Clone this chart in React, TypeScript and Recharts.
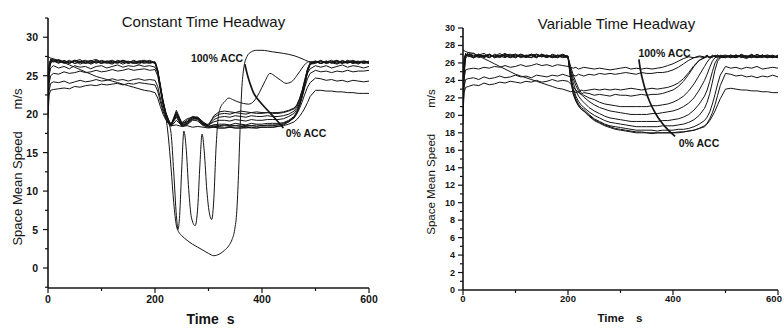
import { LineChart, Line, XAxis, YAxis } from 'recharts';

const ink = '#141414';
const font = '"Liberation Sans", Arial, sans-serif';

// shared time grid (s) for most of the runs
const time = [
  0, 2, 5, 10, 20, 30, 40, 50, 60, 70, 80, 90, 100, 110, 120, 130, 140, 150, 160, 170, 180, 190, 200,
  205, 210, 215, 220, 225, 230,
  240, 250, 260, 270, 280, 290, 300, 310, 320, 330, 340, 350, 360, 370, 380, 390, 400, 410, 420, 430, 440, 450, 460,
  465, 470, 475, 480, 485, 490,
  500, 510, 520, 530, 540, 550, 560, 570, 580, 590, 600,
];

// ---- Constant Time Headway (left) ----
const cthA = [
  27.5, 27.4, 27.3, 27.2, 27.0, 26.7, 26.4, 26.1, 25.8, 25.5, 25.2, 24.9, 24.7, 24.5, 24.3, 24.1, 23.9, 23.7, 23.5, 23.3, 23.1, 23.0, 22.8,
  22.1, 21.0, 20.0, 19.3, 18.8, 18.5,
  18.6, 18.4, 18.5, 18.3, 18.4, 18.3, 18.2, 18.3, 18.2, 18.2, 18.3, 18.2, 18.2, 18.3, 18.2, 18.2, 18.3, 18.3, 18.3, 18.4, 18.5, 18.7, 19.0,
  19.3, 19.7, 20.2, 20.8, 21.5, 22.3,
  23.1, 23.1, 23.0, 23.0, 22.9, 22.9, 22.8, 22.8, 22.7, 22.7, 22.7,
];
const cthB = [
  19.5, 22.5, 23.1, 23.2, 23.3, 23.4, 23.3, 23.6, 23.5, 23.7, 23.8, 23.7, 23.9, 23.8, 23.9, 24.0, 23.8, 24.0, 23.9, 24.1, 24.0, 23.9, 23.8,
  23.0, 21.6, 20.4, 19.4, 18.8, 18.4,
  19.2, 18.5, 18.8, 19.3, 19.1, 18.5, 18.3, 18.4, 18.4, 18.5, 18.4, 18.5, 18.4, 18.4, 18.5, 18.4, 18.5, 18.5, 18.5, 18.6, 18.7, 19.0, 19.5,
  20.0, 20.7, 21.6, 22.6, 23.5, 24.1,
  24.7, 24.6, 24.4, 24.5, 24.3, 24.4, 24.2, 24.4, 24.3, 24.2, 24.3,
];
const cthC = [
  20.5, 23.0, 24.0, 24.2, 24.1, 24.3, 24.0, 24.2, 24.4, 24.2, 24.3, 24.5, 24.3, 24.4, 24.6, 24.4, 24.5, 24.3, 24.5, 24.6, 24.4, 24.5, 24.4,
  23.6, 22.1, 20.7, 19.7, 19.0, 18.5,
  19.8, 18.6, 18.9, 19.5, 19.4, 18.7, 18.4, 18.6, 18.7, 18.7, 18.6, 18.8, 18.7, 18.6, 18.8, 18.7, 18.7, 18.8, 18.8, 18.8, 18.9, 19.2, 19.7,
  20.3, 21.1, 22.2, 23.5, 24.6, 25.3,
  25.7, 25.5, 25.6, 25.4, 25.6, 25.5, 25.7, 25.5, 25.6, 25.6, 25.7,
];
const cthD = [
  21.0, 24.0, 25.0, 25.3, 25.2, 25.5, 25.3, 25.4, 25.6, 25.4, 25.5, 25.7, 25.5, 25.6, 25.8, 25.6, 25.7, 25.9, 25.7, 25.8, 25.9, 25.7, 25.8,
  25.0, 23.1, 21.3, 20.0, 19.1, 18.6,
  20.1, 18.8, 19.0, 19.6, 19.5, 18.8, 18.6, 19.0, 19.2, 19.2, 19.1, 19.3, 19.2, 19.1, 19.3, 19.2, 19.2, 19.3, 19.3, 19.3, 19.4, 19.7, 20.1,
  20.6, 21.4, 22.6, 24.0, 25.3, 25.9,
  26.3, 26.1, 26.3, 26.0, 26.2, 26.4, 26.1, 26.3, 26.2, 26.0, 26.2,
];
const cthE = [
  21.5, 25.0, 26.0, 26.3, 26.0, 26.2, 25.9, 26.3, 26.1, 26.2, 25.9, 26.2, 26.3, 26.0, 26.2, 26.4, 26.1, 26.3, 26.2, 26.4, 26.2, 26.3, 26.1,
  25.4, 23.4, 21.5, 20.0, 19.0, 18.5,
  20.3, 18.7, 19.2, 19.7, 19.6, 18.9, 18.5, 19.3, 19.6, 19.7, 19.6, 19.8, 19.7, 19.6, 19.8, 19.7, 19.7, 19.8, 19.7, 19.7, 19.8, 20.0, 20.4,
  20.9, 21.7, 22.8, 24.2, 25.7, 26.5,
  26.8, 26.6, 26.9, 26.7, 26.5, 26.8, 26.6, 26.9, 26.6, 26.8, 26.7,
];
const cthF = [
  22.0, 25.8, 26.6, 26.9, 26.6, 27.0, 26.7, 26.9, 26.5, 26.8, 27.0, 26.6, 26.9, 26.7, 26.5, 26.9, 26.7, 26.9, 26.6, 26.8, 26.6, 26.9, 26.6,
  25.6, 23.6, 21.6, 20.1, 19.2, 18.6,
  20.5, 18.9, 19.4, 19.6, 19.4, 18.6, 18.7, 19.6, 20.0, 20.1, 20.0, 20.2, 20.1, 20.0, 20.2, 20.1, 20.1, 20.2, 20.1, 20.1, 20.2, 20.4, 20.7,
  21.1, 21.9, 23.0, 24.4, 25.8, 26.6,
  26.9, 26.6, 26.8, 27.0, 26.6, 26.9, 26.7, 26.8, 26.5, 26.9, 26.8,
];
const cthG = [
  22.8, 26.4, 27.0, 27.1, 26.8, 26.7, 27.0, 26.6, 26.9, 26.7, 26.6, 27.0, 26.8, 26.6, 26.9, 26.7, 27.0, 26.6, 26.8, 26.9, 26.7, 26.6, 26.8,
  25.5, 23.5, 21.6, 20.2, 19.3, 18.7,
  20.1, 18.8, 19.0, 19.5, 19.6, 19.0, 18.5, 19.8, 20.3, 20.4, 20.3, 20.2, 20.4, 20.3, 20.2, 20.3, 20.2, 20.2, 20.2, 20.2, 20.3, 20.5, 20.8,
  21.2, 22.0, 23.1, 24.5, 25.9, 26.7,
  26.7, 27.0, 26.6, 26.8, 26.9, 26.6, 27.0, 26.7, 26.8, 26.6, 26.9,
];
const cthH = [
  20.0, 25.5, 26.8, 27.0, 26.9, 26.6, 26.8, 27.0, 26.7, 26.9, 26.5, 26.8, 26.6, 26.9, 26.7, 26.8, 26.5, 26.8, 26.7, 26.5, 26.9, 26.7, 26.7,
  25.8, 23.8, 21.8, 20.3, 19.3, 18.6,
  19.6, 18.4, 18.6, 19.2, 19.3, 18.6, 18.3, 18.3, 18.2, 18.2, 18.3, 18.2, 18.2, 18.2, 18.3, 18.2, 18.3, 18.3, 18.3, 18.4, 18.6, 19.0, 19.6,
  20.2, 21.1, 22.3, 23.8, 25.5, 26.5,
  26.8, 26.6, 26.9, 26.6, 26.8, 26.7, 26.9, 26.6, 26.8, 26.7, 26.6,
];
const cthI = [
  21.0, 26.0, 27.2, 26.8, 27.1, 26.8, 26.6, 26.9, 27.1, 26.6, 26.9, 26.7, 27.0, 26.8, 26.6, 27.0, 26.8, 26.7, 27.0, 26.7, 26.8, 27.0, 26.7,
  25.7, 23.7, 21.7, 20.2, 19.2, 18.5,
  19.9, 18.5, 18.7, 19.4, 19.5, 18.8, 18.4, 18.6, 18.5, 18.6, 18.5, 18.5, 18.6, 18.5, 18.5, 18.6, 18.5, 18.6, 18.6, 18.6, 18.8, 19.1, 19.6,
  20.2, 21.1, 22.3, 23.8, 25.5, 26.5,
  26.6, 26.9, 26.7, 26.8, 26.6, 27.0, 26.7, 26.8, 26.9, 26.6, 26.8,
];

// stop-and-go run (own time grid)
const cthWaveTime = [
  0, 2, 5, 10, 20, 30, 40, 50, 60, 70, 80, 90, 100, 110, 120, 130, 140, 150, 160, 170, 180, 190, 200,
  205, 210, 215, 220, 225, 230, 235, 240, 243, 246, 250, 254, 258, 263, 268, 275, 280, 284, 288, 292,
  297, 302, 306, 310, 314, 318, 322, 330, 338, 345, 355, 365, 375, 385, 395, 405, 415, 425, 435, 445,
  455, 465, 475, 482, 487,
  495, 510, 520, 530, 540, 550, 560, 570, 580, 590, 600,
];
const cthWave = [
  21.5, 26.2, 27.0, 26.8, 27.0, 26.7, 26.9, 26.6, 26.8, 27.0, 26.7, 26.9, 26.6, 26.8, 27.0, 26.7, 26.9, 26.6, 26.9, 26.7, 26.9, 26.8, 26.6,
  25.5, 23.4, 21.4, 20.0, 19.0, 17.5, 12.5, 6.8, 5.0, 6.8, 13.0, 17.8, 15.8, 10.2, 6.6, 5.5, 8.0, 13.5, 17.4, 15.2,
  10.0, 7.0, 6.3, 9.0, 15.5, 19.4, 20.8, 21.6, 22.1, 21.9, 21.6, 21.4, 21.3, 21.7, 22.8, 24.2, 25.3, 24.9, 24.4, 24.0,
  24.2, 25.0, 26.0, 26.6, 26.8,
  26.7, 26.9, 26.6, 26.8, 27.0, 26.7, 26.9, 26.6, 26.8, 26.9, 26.7,
];

// near-standstill run (own time grid)
const cthDipTime = [
  0, 2, 5, 10, 20, 30, 40, 50, 60, 70, 80, 90, 100, 110, 120, 130, 140, 150, 160, 170, 180, 190, 200,
  205, 210, 215, 220, 225, 230, 235, 240, 245, 250, 260, 270, 280, 290, 300, 310, 320, 330, 338, 344,
  349, 353, 356, 359, 362, 366, 372, 380, 390, 400, 420, 440, 460, 475, 485, 490,
  500, 510, 520, 530, 540, 550, 560, 570, 580, 590, 600,
];
const cthDip = [
  20.5, 25.7, 26.9, 27.1, 26.7, 26.9, 26.6, 27.0, 26.8, 26.6, 26.9, 27.1, 26.7, 26.9, 26.8, 26.6, 27.0, 26.8, 26.6, 26.9, 27.0, 26.7, 26.8,
  25.6, 23.5, 21.5, 19.8, 17.0, 13.0, 8.5, 5.5, 4.6, 4.2, 3.6, 3.1, 2.7, 2.3, 1.9, 1.6, 1.8, 2.3, 2.9, 3.7,
  5.0, 7.5, 12.0, 18.0, 23.0, 26.0, 27.5, 28.1, 28.3, 28.3, 28.1, 27.9, 27.6, 27.2, 26.9, 26.8,
  26.9, 26.6, 26.8, 26.7, 26.9, 26.6, 26.8, 27.0, 26.7, 26.8, 26.6,
];

// "100% ACC -> 0% ACC" arrow, in data units
const cthArrowTime = [368, 372, 377, 384, 395, 409, 425, 440];
const cthArrow = [26.5, 25.3, 24.1, 22.8, 21.7, 20.6, 19.4, 18.2];

// ---- Variable Time Headway (right) ----
const vthA = [
  27.5, 27.4, 27.3, 27.2, 27.1, 26.8, 26.5, 26.2, 25.9, 25.6, 25.3, 25.0, 24.7, 24.5, 24.3, 24.1, 23.9, 23.7, 23.5, 23.3, 23.1, 23.0, 22.8,
  22.7, 22.8, 22.6, 22.7, 22.9, 22.8,
  22.9, 23.0, 22.9, 23.0, 22.9, 23.0, 22.9, 23.0, 23.1, 23.0, 22.9, 23.0, 23.1, 23.0, 23.1, 23.2, 23.4, 23.7, 24.2, 24.9, 25.7, 26.3, 26.6,
  26.8, 26.7, 26.6, 26.9, 26.7, 26.8,
  26.6, 26.8, 26.7, 26.9, 26.6, 26.8, 26.7, 26.9, 26.6, 26.8, 26.7,
];
const vthB = [
  21.0, 24.2, 25.2, 25.3, 25.4, 25.3, 25.5, 25.4, 25.6, 25.5, 25.7, 25.5, 25.6, 25.8, 25.6, 25.7, 25.9, 25.7, 25.8, 25.6, 25.8, 25.7, 25.6,
  25.5, 25.4, 25.5, 25.3, 25.4, 25.5,
  25.4, 25.3, 25.4, 25.3, 25.2, 25.3, 25.4, 25.5, 25.3, 25.4, 25.3, 25.4, 25.3, 25.4, 25.5, 25.7, 25.9, 26.2, 26.5, 26.7, 26.6, 26.8, 26.7,
  26.9, 26.6, 26.8, 26.7, 26.9, 26.6,
  26.8, 26.7, 26.9, 26.6, 26.8, 26.7, 26.6, 26.9, 26.7, 26.8, 26.6,
];
const vthC = [
  20.5, 23.2, 24.1, 24.2, 24.3, 24.1, 24.4, 24.2, 24.3, 24.5, 24.3, 24.4, 24.6, 24.4, 24.5, 24.3, 24.6, 24.5, 24.4, 24.6, 24.5, 24.7, 24.5,
  24.4, 24.6, 24.5, 24.7, 24.6, 24.5,
  24.7, 24.6, 24.8, 24.7, 24.8, 24.7, 24.8, 24.9, 24.8, 24.7, 24.9, 24.8, 24.8, 24.9, 24.9, 25.0, 25.2, 25.5, 25.9, 26.3, 26.6, 26.7, 26.6,
  26.8, 26.6, 26.9, 26.7, 26.8, 26.6,
  26.7, 26.9, 26.6, 26.8, 26.7, 27.0, 26.6, 26.8, 26.9, 26.7, 26.6,
];
const vthD = [
  20.0, 22.6, 23.2, 23.3, 23.5, 23.4, 23.7, 23.5, 23.6, 23.8, 23.7, 23.9, 23.8, 23.7, 23.9, 23.8, 24.0, 23.8, 23.9, 24.1, 23.9, 24.0, 23.9,
  23.6, 23.2, 22.9, 22.6, 22.4, 22.6,
  22.5, 22.3, 22.4, 22.3, 22.2, 22.4, 22.3, 22.3, 22.2, 22.3, 22.4, 22.3, 22.4, 22.4, 22.5, 22.7, 22.9, 23.3, 23.9, 24.7, 25.6, 26.3, 26.6,
  26.7, 26.6, 26.8, 26.7, 26.9, 26.7,
  26.8, 26.6, 26.9, 26.7, 26.8, 26.6, 26.9, 26.7, 26.6, 26.8, 26.7,
];
const vthE = [
  23.0, 26.5, 27.0, 26.9, 26.6, 26.8, 26.7, 27.0, 26.6, 26.8, 27.1, 26.7, 26.9, 26.6, 26.8, 27.0, 26.7, 26.8, 26.9, 26.6, 26.8, 27.0, 26.7,
  25.6, 24.6, 23.8, 23.1, 22.6, 22.3,
  22.0, 21.8, 21.5, 21.3, 21.2, 21.1, 21.0, 21.0, 21.0, 21.0, 21.0, 21.0, 21.1, 21.1, 21.2, 21.3, 21.5, 21.8, 22.2, 22.8, 23.6, 24.6, 25.6,
  26.1, 26.5, 26.7, 26.8, 26.6, 26.9,
  26.7, 26.8, 26.6, 27.0, 26.7, 26.9, 26.6, 26.8, 26.7, 26.9, 26.6,
];
const vthF = [
  22.5, 26.3, 27.1, 26.7, 26.9, 26.6, 26.8, 27.0, 26.7, 26.9, 26.8, 26.6, 27.0, 26.7, 26.9, 26.8, 26.6, 27.0, 26.8, 26.7, 26.9, 26.8, 26.6,
  25.3, 24.2, 23.4, 22.8, 22.4, 22.1,
  21.6, 21.2, 20.9, 20.7, 20.5, 20.4, 20.3, 20.2, 20.1, 20.1, 20.1, 20.1, 20.2, 20.2, 20.3, 20.4, 20.5, 20.7, 21.0, 21.4, 22.0, 22.9, 24.0,
  24.7, 25.5, 26.2, 26.6, 26.7, 26.8,
  26.9, 26.7, 26.6, 26.9, 26.8, 26.6, 27.0, 26.7, 26.8, 26.6, 26.9,
];
const vthG = [
  21.5, 25.8, 26.9, 27.0, 26.7, 26.9, 27.1, 26.7, 26.8, 26.6, 26.9, 27.0, 26.7, 26.8, 26.6, 26.9, 27.0, 26.7, 26.9, 26.7, 26.6, 26.9, 26.7,
  25.0, 23.7, 22.8, 22.2, 21.8, 21.5,
  20.9, 20.5, 20.2, 19.9, 19.7, 19.6, 19.5, 19.4, 19.3, 19.3, 19.3, 19.3, 19.3, 19.3, 19.4, 19.4, 19.5, 19.6, 19.8, 20.1, 20.6, 21.3, 22.2,
  22.9, 23.9, 25.0, 26.0, 26.5, 26.7,
  26.6, 26.9, 26.7, 26.8, 26.6, 26.9, 26.7, 26.6, 26.9, 26.7, 26.8,
];
const vthH = [
  22.0, 26.0, 27.0, 26.8, 26.6, 27.0, 26.8, 26.6, 26.9, 26.7, 27.0, 26.8, 26.6, 26.9, 26.7, 27.0, 26.7, 26.9, 26.6, 27.0, 26.8, 26.6, 26.8,
  24.6, 23.1, 22.2, 21.6, 21.2, 20.9,
  20.4, 20.0, 19.7, 19.4, 19.2, 19.1, 19.0, 18.9, 18.8, 18.7, 18.7, 18.7, 18.7, 18.7, 18.8, 18.8, 18.8, 18.9, 19.0, 19.2, 19.5, 20.0, 20.8,
  21.5, 22.5, 23.8, 25.2, 26.2, 26.6,
  26.8, 26.6, 26.9, 26.7, 26.5, 26.8, 26.6, 26.9, 26.7, 26.6, 26.8,
];
const vthI = [
  20.0, 25.0, 26.7, 27.2, 26.8, 27.0, 26.6, 26.9, 26.7, 27.1, 26.7, 26.9, 26.6, 27.0, 26.8, 26.9, 26.6, 27.0, 26.7, 26.8, 26.6, 26.9, 26.8,
  24.4, 22.8, 21.9, 21.3, 20.9, 20.7,
  20.1, 19.6, 19.3, 19.0, 18.8, 18.7, 18.6, 18.5, 18.4, 18.3, 18.3, 18.3, 18.3, 18.2, 18.3, 18.3, 18.3, 18.4, 18.4, 18.5, 18.7, 19.0, 19.4,
  19.8, 20.4, 21.3, 22.4, 23.6, 24.6,
  25.6, 25.4, 25.5, 25.3, 25.5, 25.4, 25.6, 25.3, 25.4, 25.5, 25.4,
];
const vthJ = [
  21.0, 25.5, 26.8, 26.9, 27.1, 26.7, 26.9, 26.6, 27.0, 26.8, 26.6, 26.9, 27.0, 26.7, 26.8, 26.6, 27.0, 26.8, 26.6, 26.9, 26.7, 26.8, 26.7,
  24.2, 22.5, 21.7, 21.1, 20.7, 20.5,
  19.9, 19.4, 19.1, 18.8, 18.6, 18.4, 18.3, 18.2, 18.1, 18.0, 18.0, 18.0, 17.9, 18.0, 18.0, 18.0, 18.0, 18.0, 18.1, 18.2, 18.3, 18.5, 18.8,
  19.1, 19.6, 20.3, 21.2, 22.3, 23.4,
  24.8, 24.7, 24.5, 24.6, 24.4, 24.5, 24.3, 24.5, 24.4, 24.6, 24.4,
];
const vthK = [
  19.0, 24.5, 26.5, 27.0, 26.6, 26.9, 26.7, 27.0, 26.6, 26.8, 26.9, 26.6, 26.8, 27.0, 26.7, 26.6, 26.9, 26.7, 26.8, 26.6, 26.9, 26.7, 26.6,
  24.1, 22.4, 21.6, 21.1, 20.7, 20.5,
  20.0, 19.5, 19.2, 18.9, 18.7, 18.5, 18.4, 18.3, 18.2, 18.1, 18.1, 18.0, 18.0, 18.0, 18.0, 18.0, 18.0, 18.1, 18.1, 18.2, 18.3, 18.5, 18.7,
  19.0, 19.4, 19.9, 20.5, 21.2, 21.9,
  23.0, 23.1, 23.0, 22.9, 22.9, 22.8, 22.8, 22.7, 22.7, 22.6, 22.6,
];

const vthArrowTime = [335, 338, 342, 348, 356, 366, 378, 391, 404];
const vthArrow = [26.4, 25.2, 24.1, 22.8, 21.5, 20.3, 19.2, 18.3, 17.6];

// axis ticks
const xTicks = [0, 100, 200, 300, 400, 500, 600];
const cthYTicks = [-2.5, 0, 2.5, 5, 7.5, 10, 12.5, 15, 17.5, 20, 22.5, 25, 27.5, 30, 32.5];
const vthYTicks = [0, 1, 2, 3, 4, 5, 6, 7, 8, 9, 10, 11, 12, 13, 14, 15, 16, 17, 18, 19, 20, 21, 22, 23, 24, 25, 26, 27, 28, 29, 30];

const cthRuns = [cthA, cthB, cthC, cthD, cthE, cthF, cthG, cthH, cthI];
const vthRuns = [vthA, vthB, vthC, vthD, vthE, vthF, vthG, vthH, vthI, vthJ, vthK];

const pts = (ts: number[], vs: number[]) => ts.map((t, i) => ({ t, v: vs[i] }));

function XTick({ x, y, payload, size, gap, lastShift = 0 }: any) {
  const major = payload.value % 200 === 0;
  const len = major ? 5 : 3;
  const tx = payload.value === 600 ? x - lastShift : x;
  return (
    <g>
      <line x1={x} y1={y} x2={x} y2={y + len} stroke={ink} strokeWidth={1.2} />
      {major && (
        <text x={tx} y={y + gap} textAnchor="middle" dominantBaseline="central"
          fontFamily={font} fontSize={size} fontWeight={700} fill={ink}>
          {payload.value}
        </text>
      )}
    </g>
  );
}

function YTick({ x, y, payload, size, every, gap }: any) {
  const v = payload.value;
  const major = Math.abs(v / every - Math.round(v / every)) < 1e-6;
  const len = major ? 5 : 3;
  return (
    <g>
      <line x1={x} y1={y} x2={x - len} y2={y} stroke={ink} strokeWidth={1.2} />
      {major && (
        <text x={x - gap} y={y} textAnchor="end" dominantBaseline="central"
          fontFamily={font} fontSize={size} fontWeight={700} fill={ink}>
          {v}
        </text>
      )}
    </g>
  );
}

function Txt({ x, y, size, bold, rotate, children }: any) {
  return (
    <div style={{
      position: 'absolute', left: x, top: y,
      transform: `translate(-50%, -50%)${rotate ? ' rotate(-90deg)' : ''}`,
      fontFamily: font, fontSize: size, fontWeight: bold ? 700 : 400,
      color: ink, whiteSpace: 'nowrap', lineHeight: 1,
    }}>
      {children}
    </div>
  );
}

const axisStyle = { stroke: ink, strokeWidth: 1.6 };

function runLine(key: string, data: any[], width = 1, type: any = 'linear') {
  return (
    <Line key={key} data={data} dataKey="v" type={type} stroke={ink} strokeWidth={width}
      dot={false} activeDot={false} isAnimationActive={false} />
  );
}

export default function App() {
  return (
    <div style={{ position: 'absolute', left: 0, top: 0, width: 784, height: 328, background: '#fff', overflow: 'hidden' }}>
      <div style={{ position: 'absolute', left: 0, top: 0 }}>
        <LineChart width={392} height={328} margin={{ top: 18, right: 23, bottom: 0, left: 0 }}>
          <XAxis type="number" dataKey="t" domain={[0, 600]} ticks={xTicks} interval={0} height={40}
            tickSize={0} tickMargin={0} tickLine={false} axisLine={axisStyle} allowDataOverflow
            tick={(p: any) => <XTick {...p} size={10.5} gap={11} />} />
          <YAxis type="number" domain={[-2.6, 32.5]} ticks={cthYTicks} interval={0} width={48}
            tickSize={0} tickMargin={0} tickLine={false} axisLine={axisStyle} allowDataOverflow
            tick={(p: any) => <YTick {...p} size={10.5} every={5} gap={10} />} />
          {cthRuns.map((vs, i) => runLine('c' + i, pts(time, vs)))}
          {runLine('wave', pts(cthWaveTime, cthWave), 1, 'monotone')}
          {runLine('dip', pts(cthDipTime, cthDip), 1, 'monotone')}
          {runLine('arrow', pts(cthArrowTime, cthArrow), 1.7, 'monotone')}
        </LineChart>
      </div>
      <div style={{ position: 'absolute', left: 392, top: 0 }}>
        <LineChart width={392} height={328} margin={{ top: 28, right: 6, bottom: 0, left: 0 }}>
          <XAxis type="number" dataKey="t" domain={[0, 600]} ticks={xTicks} interval={0} height={38}
            tickSize={0} tickMargin={0} tickLine={false} axisLine={axisStyle} allowDataOverflow
            tick={(p: any) => <XTick {...p} size={9.5} gap={8} lastShift={4} />} />
          <YAxis type="number" domain={[0, 30]} ticks={vthYTicks} interval={0} width={71}
            tickSize={0} tickMargin={0} tickLine={false} axisLine={axisStyle} allowDataOverflow
            tick={(p: any) => <YTick {...p} size={9} every={2} gap={8} />} />
          {vthRuns.map((vs, i) => runLine('v' + i, pts(time, vs)))}
          {runLine('arrow', pts(vthArrowTime, vthArrow), 1.7, 'monotone')}
        </LineChart>
      </div>

      <Txt x={203.5} y={21} size={15}>Constant Time Headway</Txt>
      <Txt x={616.5} y={23} size={15}>Variable Time Headway</Txt>

      <Txt x={17} y={166.5} size={13} rotate>
        Space Mean Speed<span style={{ marginLeft: 22 }}>m/s</span>
      </Txt>
      <Txt x={432} y={161.5} size={11.5} rotate>
        Space Mean Speed<span style={{ marginLeft: 26 }}>m/s</span>
      </Txt>

      <Txt x={210.5} y={319} size={14} bold>
        Time<span style={{ marginLeft: 8 }}>s</span>
      </Txt>
      <Txt x={620} y={319} size={11.5} bold>
        Time<span style={{ marginLeft: 12 }}>s</span>
      </Txt>

      <Txt x={217} y={58} size={10.5} bold>100% ACC</Txt>
      <Txt x={306} y={133} size={10.5} bold>0% ACC</Txt>
      <Txt x={664.5} y={53} size={10.5} bold>100% ACC</Txt>
      <Txt x={699} y={143} size={10.5} bold>0% ACC</Txt>
    </div>
  );
}
